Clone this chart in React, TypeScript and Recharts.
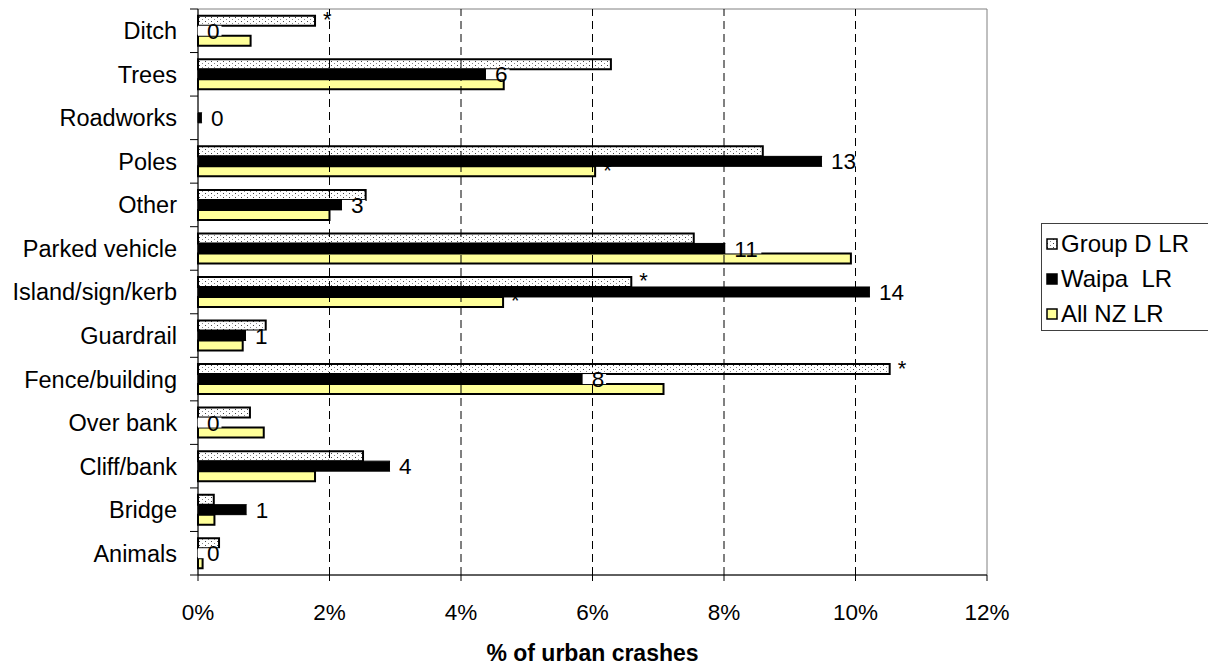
import React from 'react';
import { BarChart, Bar, XAxis, YAxis, ReferenceLine, ReferenceArea, LabelList } from 'recharts';

const categories = ['Ditch', 'Trees', 'Roadworks', 'Poles', 'Other', 'Parked vehicle', 'Island/sign/kerb', 'Guardrail', 'Fence/building', 'Over bank', 'Cliff/bank', 'Bridge', 'Animals'];
const groupD = [1.78, 6.28, 0, 8.59, 2.55, 7.54, 6.59, 1.03, 10.52, 0.79, 2.51, 0.24, 0.32];
const waipa = [0, 4.38, 0.06, 9.49, 2.19, 8.02, 10.22, 0.73, 5.85, 0, 2.92, 0.74, 0];
const allNZ = [0.8, 4.65, 0, 6.04, 2.0, 9.93, 4.64, 0.68, 7.08, 1.0, 1.78, 0.25, 0.07];
const waipaCounts = [0, 6, 0, 13, 3, 11, 14, 1, 8, 0, 4, 1, 0];
const groupDStars = ['*', '', '', '', '', '', '*', '', '*', '', '', '', ''];
const allNZStars = ['', '', '', '*', '', '', '*', '', '', '', '', '', ''];
const xTicks = [0, 2, 4, 6, 8, 10, 12];
const gridTicks = [2, 4, 6, 8, 10];
const seriesNames = ['Group D LR', 'Waipa  LR', 'All NZ LR'];

const data = categories.map((name, i) => ({
  name,
  groupD: groupD[i],
  waipa: waipa[i],
  allNZ: allNZ[i],
  count: waipa[i] > 0 ? waipaCounts[i] : undefined,
  zeroCount: waipa[i] > 0 ? undefined : waipaCounts[i],
  dStar: groupDStars[i],
  nzStar: allNZStars[i],
}));

const FONT = '"Liberation Sans", Arial, sans-serif';
const W = 1208;
const H = 666;
const M = { top: 9, right: 221, bottom: 0, left: 0 };
const X_AXIS_H = 91;
const PLOT_H = H - M.top - M.bottom - X_AXIS_H;
const BAND = PLOT_H / categories.length;
const YELLOW = '#FFFF99';
const LABEL_FS = 23.5;

const YTick = (props: any) => {
  const { x, y, payload, index } = props;
  const axisX = x + 21;
  return (
    <g>
      <line x1={axisX - 8} x2={axisX} y1={y - BAND / 2} y2={y - BAND / 2} stroke="#000" />
      {index === categories.length - 1 && (
        <line x1={axisX - 8} x2={axisX} y1={y + BAND / 2} y2={y + BAND / 2} stroke="#000" />
      )}
      <text x={x} y={y} dy="0.36em" textAnchor="end" fontSize={LABEL_FS} fill="#000" fontFamily={FONT}>
        {payload.value}
      </text>
    </g>
  );
};

const drawCount = (startX: number, y: number, height: number, value: any) => {
  const txt = String(value);
  const tw = txt.length * 12.5;
  return (
    <g>
      <rect x={startX} y={y} width={9 + tw + 2} height={height} fill="#fff" />
      <text x={startX + 9} y={y + height / 2} dy="0.36em" fontSize={22.5} fill="#000" fontFamily={FONT}>
        {txt}
      </text>
    </g>
  );
};

const CountLabel = (props: any) => {
  const { x, y, width, height, value } = props;
  if (value === undefined || value === null) return null;
  return drawCount(x + width, y, height, value);
};

// zero-valued Waipa bars have no rectangle; the label sits on the slot just below the Group D bar
const ZeroCountLabel = (props: any) => {
  const { x, y, height, value } = props;
  if (value === undefined || value === null) return null;
  return drawCount(x, y + height, height, value);
};

const StarLabel = (props: any) => {
  const { x, y, width, height, value } = props;
  if (!value) return null;
  return (
    <text x={x + width + 8} y={y + height / 2 + 6.5} fontSize={22} fill="#000" fontFamily={FONT}>
      {value}
    </text>
  );
};

const DotPattern = ({ id }: { id: string }) => (
  <pattern id={id} x={0} y={0} width={6} height={4} patternUnits="userSpaceOnUse">
    <rect x={0} y={0} width={6} height={4} fill="#fff" />
    <rect x={1} y={1} width={1} height={1} fill="#444" />
    <rect x={4} y={3} width={1} height={1} fill="#888" />
  </pattern>
);

const Legend = () => {
  const swatches = [
    { fill: 'url(#dotsLegend)', stroke: '#000' },
    { fill: '#000', stroke: '#000' },
    { fill: YELLOW, stroke: '#000' },
  ];
  return (
    <div
      style={{
        position: 'absolute',
        left: 1041,
        top: 223,
        width: 200,
        height: 108,
        border: '1px solid #404040',
        background: '#fff',
        boxSizing: 'border-box',
        fontFamily: FONT,
        fontSize: 24,
        color: '#000',
      }}
    >
      {seriesNames.map((n, i) => (
        <div
          key={n}
          style={{
            position: 'absolute',
            left: 4,
            top: 20 + i * 35 - 14,
            height: 28,
            display: 'flex',
            alignItems: 'center',
            whiteSpace: 'pre',
          }}
        >
          <svg width={12} height={12} style={{ marginRight: 3 }}>
            <defs>
              <DotPattern id="dotsLegend" />
            </defs>
            <rect x={1} y={1} width={10} height={10} fill={swatches[i].fill} stroke={swatches[i].stroke} strokeWidth={1.5} />
          </svg>
          <span style={{ lineHeight: '28px' }}>{n}</span>
        </div>
      ))}
    </div>
  );
};

export default function App() {
  return (
    <div style={{ position: 'absolute', left: 0, top: 0, width: W, height: H, background: '#fff', overflow: 'hidden' }}>
      <BarChart
        width={W}
        height={H}
        data={data}
        layout="vertical"
        margin={M}
        barCategoryGap="15.5%"
        barGap={0}
        style={{ fontFamily: FONT }}
      >
        <defs>
          <DotPattern id="dots" />
        </defs>
        <ReferenceArea x1={0} x2={12} fill="none" fillOpacity={0} stroke="#808080" strokeWidth={1} />
        {gridTicks.map((t) => (
          <ReferenceLine key={t} x={t} stroke="#000" strokeDasharray="8 5" />
        ))}
        <XAxis
          type="number"
          domain={[0, 12]}
          ticks={xTicks}
          tickFormatter={(v: number) => `${v}%`}
          height={X_AXIS_H}
          tickSize={6}
          tickMargin={23}
          axisLine={{ stroke: '#000' }}
          tickLine={{ stroke: '#000' }}
          tick={{ fontSize: 22.5, fill: '#000', fontFamily: FONT }}
          label={{ value: '% of urban crashes', position: 'insideBottom', offset: 5, fontSize: 23, fontWeight: 'bold', fill: '#000', fontFamily: FONT }}
          interval={0}
        />
        <YAxis
          type="category"
          dataKey="name"
          width={198}
          axisLine={{ stroke: '#000' }}
          tickLine={false}
          tickSize={8}
          tickMargin={13}
          tick={<YTick />}
          interval={0}
        />
        <Bar dataKey="groupD" name={seriesNames[0]} fill="url(#dots)" stroke="#000" strokeWidth={2} isAnimationActive={false}>
          <LabelList dataKey="dStar" content={<StarLabel />} />
          <LabelList dataKey="zeroCount" content={<ZeroCountLabel />} />
        </Bar>
        <Bar dataKey="waipa" name={seriesNames[1]} fill="#000" stroke="#000" strokeWidth={1} isAnimationActive={false}>
          <LabelList dataKey="count" content={<CountLabel />} />
        </Bar>
        <Bar dataKey="allNZ" name={seriesNames[2]} fill={YELLOW} stroke="#000" strokeWidth={2} isAnimationActive={false}>
          <LabelList dataKey="nzStar" content={<StarLabel />} />
        </Bar>
      </BarChart>
      <Legend />
    </div>
  );
}
